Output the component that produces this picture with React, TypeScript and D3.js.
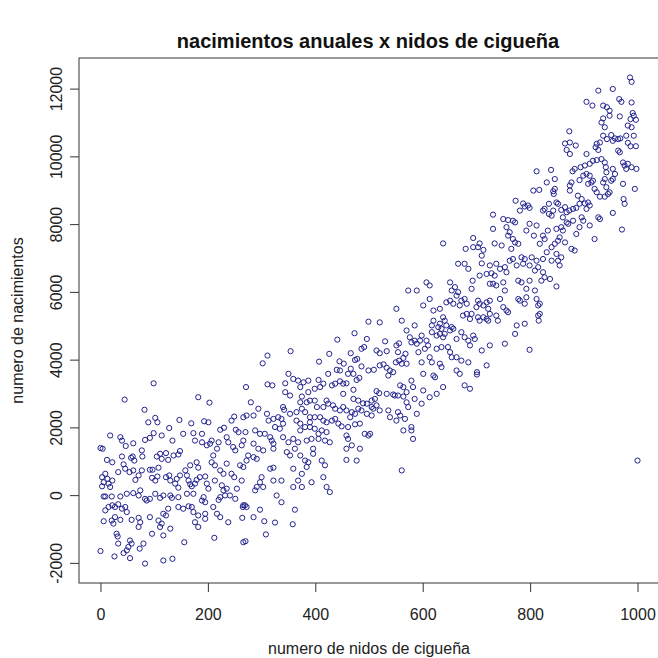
import React, { useEffect, useRef } from "react";
import * as d3 from "d3";

// textos del grafico
const titulo = "nacimientos anuales x nidos de cigueña";
const etiquetaX = "numero de nidos de cigueña";
const etiquetaY = "numero de nacimientos";
const ticksX = [0, 200, 400, 600, 800, 1000];
const ticksY = [-2000, 0, 2000, 4000, 6000, 8000, 10000, 12000];

// [nidos, nacimientos], por zonas
const puntosIzquierda = [
  [99,3300],[271,3190],[45,2820],[182,2890],[203,2730],[82,2520],[102,2280],[106,2150],[89,2150],[147,2220],[169,2120],[193,2180],[201,2150],[249,2320],[244,2200],[266,2300],[272,2350],[128,1980],[223,1930],[230,1990],[252,1930],[257,1860],[270,1860],[18,1760],[37,1710],[40,1610],[61,1530],[47,1450],[83,1630],[92,1690],[99,1830],[114,1760],[134,1610],[154,1810],[173,1830],[176,1610],[189,1810],[189,1560],[198,1470],[204,1520],[207,1610],[220,1560],[217,1370],[235,1710],[238,1560],[247,1420],[251,1320],[266,1610],[263,1470],[0,1390],[4,1370],[12,1040],[22,970],[40,1140],[43,910],[57,1100],[60,1140],[63,1020],[77,1320],[78,1140],[105,1140],[111,1220],[114,1070],[122,1240],[126,1040],[136,1170],[148,1300],[145,1200],[179,970],[167,880],[182,810],[210,1170],[207,970],[213,880],[223,730],[229,630],[235,930],[244,630],[249,530],[260,880],[266,830],[272,1020],[275,1170],[9,630],[3,530],[6,380],[13,480],[15,340],[22,430],[18,240],[3,260],[33,680],[46,780],[54,680],[61,730],[65,450],[71,580],[77,730],[92,750],[97,750],[108,810],[96,510],[102,430],[106,550],[122,530],[128,580],[130,430],[142,480],[148,580],[139,340],[145,220],[158,730],[161,580],[164,430],[167,320],[170,260],[176,340],[179,450],[185,530],[195,550],[198,340],[201,190],[213,430],[226,290],[229,140],[235,190],[241,-10],[254,190],[263,430],[266,-300],[272,-350],[6,-40],[9,-40],[21,-40],[37,-40],[49,40],[61,60],[74,140],[71,-10],[83,-110],[86,-160],[92,-110],[102,40],[111,-80],[117,-10],[130,-10],[133,-80],[145,-60],[161,40],[173,40],[189,-160],[195,-210],[192,-60],[220,-140],[223,-60],[232,-10],[251,-110],[9,-450],[15,-350],[22,-300],[27,-350],[33,-270],[40,-400],[46,-350],[49,-500],[6,-770],[21,-750],[27,-650],[24,-840],[37,-730],[58,-730],[71,-670],[74,-800],[71,-940],[92,-650],[108,-750],[117,-550],[114,-840],[111,-940],[122,-600],[130,-990],[126,-400],[145,-350],[154,-400],[164,-330],[170,-350],[173,-500],[176,-800],[182,-940],[182,-600],[195,-550],[195,-700],[210,-350],[217,-550],[223,-650],[238,-800],[265,-350],[269,-300],[264,-670],[30,-1140],[32,-1220],[33,-1430],[55,-1340],[58,-1430],[52,-1530],[49,-1630],[43,-1710],[73,-1580],[80,-1430],[96,-1140],[117,-1190],[156,-1390],[212,-1260],[266,-1390],[270,-1360],[0,-1650],[26,-1810],[55,-1860],[83,-2020],[117,-1930],[134,-1880],
];

const puntosCentro = [
  [499,5120],[520,5100],[473,4780],[441,4590],[496,4610],[530,4540],[514,4270],[520,4190],[533,4250],[551,4420],[556,4480],[554,4220],[568,4170],[570,4860],[491,4370],[486,4320],[354,4250],[311,4120],[302,3890],[426,4170],[407,3940],[466,4190],[478,4020],[474,3990],[445,3950],[453,3880],[486,3800],[499,3680],[509,3700],[520,3830],[527,3860],[533,3760],[539,3680],[545,3630],[536,3530],[550,3920],[556,3970],[561,3880],[564,4050],[570,3880],[466,3730],[461,3580],[471,3580],[440,3700],[446,3680],[424,3580],[477,3400],[482,3460],[350,3580],[359,3430],[368,3380],[378,3330],[387,3380],[372,3190],[387,3040],[399,3140],[406,3400],[409,3190],[415,3290],[311,3270],[320,3240],[344,3300],[431,3240],[437,3290],[446,3360],[452,3290],[458,3300],[344,3040],[353,2940],[452,2990],[471,3110],[514,3070],[519,3010],[558,3240],[564,3190],[533,2990],[545,2970],[548,2940],[554,2940],[564,2910],[570,3040],[471,2840],[480,2790],[489,2710],[496,2700],[505,2790],[511,2840],[514,2650],[505,2600],[508,2550],[480,2550],[486,2500],[496,2400],[505,2350],[520,2500],[536,2500],[539,2300],[554,2450],[558,2350],[551,2200],[570,2740],[573,2600],[375,2910],[372,2740],[384,2740],[390,2790],[399,2790],[403,2600],[415,2600],[421,2790],[424,2700],[433,2650],[437,2550],[446,2500],[452,2600],[458,2500],[468,2450],[465,2300],[474,2400],[280,2740],[294,2550],[285,2350],[340,2600],[342,2520],[353,2400],[365,2450],[375,2550],[381,2450],[390,2300],[390,2150],[399,2300],[409,2300],[415,2200],[421,2150],[431,2200],[437,2250],[310,2400],[313,2200],[322,2250],[331,2300],[337,2250],[340,2110],[325,2010],[334,1960],[365,2200],[372,2110],[372,1910],[381,2010],[390,2010],[399,1960],[406,1810],[412,1910],[421,1860],[443,2110],[449,2030],[461,2010],[474,2090],[483,2110],[492,1810],[499,1760],[502,1810],[458,1760],[461,1660],[567,2250],[579,1910],[288,1910],[297,1810],[306,1810],[316,1710],[319,1610],[322,1520],[340,1710],[350,1560],[359,1660],[368,1560],[384,1610],[393,1660],[406,1660],[418,1610],[427,1560],[285,1520],[294,1370],[303,1320],[322,1370],[347,1270],[353,1170],[362,1370],[372,1170],[381,1020],[387,970],[396,1370],[396,1220],[412,1020],[418,880],[458,1370],[468,1470],[483,1370],[458,1040],[477,1020],[561,730],[285,1120],[291,1070],[316,780],[322,810],[359,780],[384,830],[375,630],[368,430],[393,380],[415,530],[300,530],[297,380],[303,240],[288,140],[291,240],[322,430],[337,430],[328,-10],[337,-210],[359,240],[375,240],[362,-430],[427,90],[421,240],[285,-650],[297,-430],[305,-770],[325,-810],[358,-860],[308,-1160],[1000,1020],
];

const puntosDerecha = [
  [731,7860],[756,7910],[762,7760],[759,7660],[768,7560],[772,8050],[799,8010],[812,7960],[793,7810],[807,7660],[638,7430],[694,7590],[706,7430],[703,7320],[694,7320],[713,7240],[710,7070],[710,6840],[680,7270],[734,7430],[747,7370],[772,7460],[778,7420],[765,7270],[762,6920],[768,6970],[775,6780],[784,7020],[790,6970],[787,6830],[803,7020],[812,6920],[799,6780],[809,6630],[815,6730],[666,6830],[678,6830],[685,6680],[725,6780],[737,6830],[744,6680],[753,6730],[756,6580],[706,6480],[719,6530],[728,6550],[734,6480],[750,6280],[753,6040],[737,6190],[725,6240],[731,6240],[778,6330],[784,6280],[793,6090],[799,6330],[809,6040],[693,6330],[691,6090],[607,6280],[613,6190],[651,6280],[660,6140],[654,6040],[666,5990],[573,6040],[589,6040],[601,5600],[613,5790],[620,5450],[632,5500],[644,5690],[651,5740],[657,5650],[663,5890],[669,5600],[672,5740],[678,5790],[682,5650],[703,5740],[700,5550],[706,5650],[713,5600],[719,5690],[725,5740],[722,5500],[744,5790],[750,5550],[756,5450],[781,5740],[778,5790],[790,5650],[793,5840],[812,5790],[815,5600],[551,5500],[675,5300],[682,5350],[691,5350],[688,5200],[703,5250],[706,5150],[713,5250],[719,5200],[725,5350],[722,5150],[737,5300],[740,5150],[759,5400],[638,5250],[641,5150],[632,5060],[629,4960],[644,5010],[654,4960],[620,5150],[617,5010],[775,5010],[790,5060],[815,5300],[772,4760],[753,4470],[561,5150],[585,5010],[576,4660],[579,4510],[585,4560],[589,4470],[595,4560],[598,4710],[607,4560],[610,4420],[604,4320],[617,4810],[626,4710],[635,4910],[632,4760],[638,4660],[641,4760],[651,4860],[657,4910],[663,4610],[672,4810],[678,4660],[685,4560],[688,4420],[694,4710],[697,4610],[710,4270],[725,4420],[719,3830],[799,4290],[626,4320],[635,4370],[647,4370],[651,4220],[654,4070],[663,4070],[672,3970],[685,3920],[663,3680],[669,3580],[678,3240],[688,3140],[701,3630],[701,3560],[592,4220],[598,3920],[601,3580],[613,4070],[617,3920],[620,3530],[623,3480],[632,3880],[635,3780],[638,3190],[626,2990],[613,2890],[579,3380],[582,3190],[585,2840],[589,2400],[598,2700],[601,3090],[564,1910],[579,2010],[582,1660],
];

const puntosSuperiores = [
  [986,12330],[989,12200],[927,11940],[954,11990],[966,11690],[970,11610],[989,11590],[905,11610],[916,11500],[936,11500],[943,11450],[948,11350],[948,11200],[967,11180],[991,11280],[993,11200],[997,11080],[987,11100],[982,10910],[989,10860],[936,11120],[951,10630],[958,10530],[964,10510],[968,10530],[954,10460],[979,10610],[993,10610],[982,10400],[987,10300],[997,10300],[964,10170],[967,10120],[954,9630],[958,9480],[954,9330],[951,9280],[973,9820],[976,9730],[982,9780],[979,9630],[989,9680],[998,9630],[973,9190],[995,9040],[974,8740],[976,8600],[954,8330],[971,7840],[948,8940],
  [873,10740],[933,11000],[939,10860],[943,10510],[936,10610],[865,10380],[874,10410],[885,10320],[868,10190],[874,10070],[924,10370],[930,10410],[922,10270],[927,10190],[905,10070],[917,9870],[924,9890],[933,9920],[939,9820],[941,9680],[942,9530],[939,9330],[936,9230],[942,9090],[839,9600],[846,9330],[831,9230],[879,9560],[883,9630],[894,9680],[902,9730],[911,9780],[892,9300],[899,9430],[905,9480],[911,9430],[914,9230],[908,9190],[917,9280],[877,9230],[874,8990],[874,9140],[843,8970],[846,9040],[844,8890],[920,9040],[924,8940],[930,8810],[939,8810],[945,8890],[889,8840],[896,8740],[892,8600],[902,8610],[908,8640],[905,8450],[911,8550],[824,8400],[827,8450],[835,8600],[843,8400],[849,8640],[852,8600],[840,8250],[835,8300],[858,8420],[865,8500],[868,8350],[873,8400],[880,8450],[886,8480],[927,8200],[930,8150],[861,8200],[868,8050],[858,7910],[849,7860],[861,7810],[871,8010],[880,8100],[896,8200],[899,8100],[892,7910],[911,7960],[886,7710],[833,7810],[824,7660],[827,7560],[818,7420],[855,7610],[852,7510],[846,7420],[840,7320],[865,7460],[877,7270],[883,7220],[920,7560],[831,7170],[824,6970],[840,6920],[849,7120],[852,6920],[858,7020],[855,6780],[824,6580],[821,6330],[827,6430],[837,6380],[849,6160],[818,5650],[818,5350],[816,5150],[812,9560],[806,8990],[817,9010],[773,8690],[787,8610],[796,8550],[781,8400],[790,8520],[799,8480],[731,8280],[750,8150],[759,8120],[768,8100],
];

const fuente = "'Liberation Sans', Arial, sans-serif";

export default function App() {
  const ref = useRef<SVGSVGElement>(null);

  useEffect(() => {
    const svg = d3.select(ref.current);
    svg.selectAll("*").remove();

    const puntos = [...puntosIzquierda, ...puntosCentro, ...puntosDerecha, ...puntosSuperiores];
    const left = 79, right = 659, top = 58, bottom = 583;

    // como R: 4% de margen a cada lado del rango de datos
    const pad = (ext: number[]) => {
      const r = ext[1] - ext[0];
      return [ext[0] - r * 0.04, ext[1] + r * 0.04];
    };
    const x = d3.scaleLinear()
      .domain(pad(d3.extent(puntos, (d) => d[0]) as number[]))
      .range([left, right]);
    const y = d3.scaleLinear()
      .domain(pad(d3.extent(puntos, (d) => d[1]) as number[]))
      .range([bottom, top]);

    svg.append("rect").attr("width", 658).attr("height", 658).attr("fill", "#fff");

    // ejes
    const gx = svg.append("g")
      .attr("transform", `translate(0, ${bottom})`)
      .call(d3.axisBottom(x).tickValues(ticksX).tickFormat((d) => String(d)).tickSize(9).tickPadding(16.5));
    const gy = svg.append("g")
      .attr("transform", `translate(${left}, 0)`)
      .call(d3.axisLeft(y).tickValues(ticksY).tickFormat((d) => String(d)).tickSize(9));
    [gx, gy].forEach((g) => {
      g.select(".domain").remove();
      g.selectAll("line").attr("stroke", "#333");
      g.selectAll("text")
        .attr("fill", "#222")
        .style("font-family", fuente)
        .style("font-size", "16px");
    });
    gy.selectAll("text")
      .attr("x", null)
      .attr("dy", null)
      .attr("text-anchor", "middle")
      .attr("transform", `translate(${62 - left}, 0) rotate(-90)`);

    svg.append("rect")
      .attr("x", left).attr("y", top)
      .attr("width", right - left).attr("height", bottom - top)
      .attr("fill", "none").attr("stroke", "#333").attr("stroke-width", 1);

    // puntos
    svg.append("g")
      .selectAll("circle")
      .data(puntos)
      .enter()
      .append("circle")
      .attr("cx", (d) => x(d[0]))
      .attr("cy", (d) => y(d[1]))
      .attr("r", 2.6)
      .attr("fill", "none")
      .attr("stroke", "#22228e")
      .attr("stroke-width", 1);

    // textos
    svg.append("text")
      .attr("x", 368).attr("y", 48)
      .attr("text-anchor", "middle")
      .style("font-family", fuente).style("font-size", "20px").style("font-weight", "bold")
      .attr("fill", "#111")
      .text(titulo);
    svg.append("text")
      .attr("x", (left + right) / 2).attr("y", 654)
      .attr("text-anchor", "middle")
      .style("font-family", fuente).style("font-size", "16px")
      .attr("fill", "#222")
      .text(etiquetaX);
    svg.append("text")
      .attr("transform", `translate(23, ${(top + bottom) / 2}) rotate(-90)`)
      .attr("text-anchor", "middle")
      .style("font-family", fuente).style("font-size", "16px")
      .attr("fill", "#222")
      .text(etiquetaY);
  }, []);

  return (
    <svg
      ref={ref}
      width={658}
      height={658}
      style={{ position: "absolute", left: 0, top: 0, display: "block" }}
    />
  );
}
